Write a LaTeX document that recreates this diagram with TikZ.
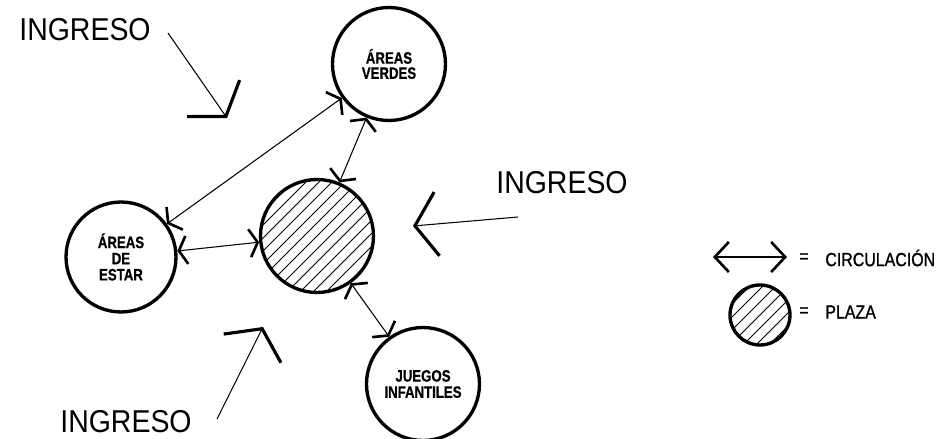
\documentclass[tikz,border=0pt]{standalone}
\usepackage{fontspec}
\setmainfont{Liberation Sans}
\newfontfamily\etiqfont[FakeStretch=0.8,FakeBold=0.7]{Liberation Sans}
\newfontfamily\leyfont[FakeStretch=0.84,FakeBold=1.2]{Liberation Sans}
\newfontfamily\ingfont[FakeStretch=0.9]{Liberation Sans}
\usetikzlibrary{positioning,arrows.meta}

\tikzset{
  zona/.style={circle, draw, line width=1.9pt, minimum size=2.26cm, inner sep=0pt, align=center, font=\etiqfont\bfseries\fontsize{9.4}{9.2}\selectfont},
  rayado/.style={path picture={
    \foreach \d in {-130,-117,...,130}
      \draw[line width=0.5pt] ([shift={(\d-80,80)}]path picture bounding box.center) -- ([shift={(\d+80,-80)}]path picture bounding box.center);}},
  circula/.style={line width=0.6pt, {Straight Barb[length=0.16cm,width=0.56cm,line width=1.5pt]}-{Straight Barb[length=0.16cm,width=0.56cm,line width=1.5pt]}},
  leyenda/.style={line width=0.6pt, {Straight Barb[length=0.28cm,width=0.6cm,line width=1.5pt]}-{Straight Barb[length=0.28cm,width=0.6cm,line width=1.5pt]}},
  ingreso/.style={line width=0.6pt, -{Straight Barb[length=0.44cm,width=1.28cm,line width=1.8pt]}},
  rotulo/.style={font=\ingfont\fontsize{18}{18}\selectfont, inner sep=0pt},
  nota/.style={font=\leyfont\fontsize{10.8}{10.8}\selectfont, inner sep=0pt},
}

\begin{document}
\begin{tikzpicture}[x=0.02cm, y=-0.02cm]
\useasboundingbox (0,0) rectangle (940,439);

% zonas
\node[zona, rayado] (plaza) at (317,236) {};
\node[zona, font=\etiqfont\bfseries\fontsize{9.4}{8.6}\selectfont] (verdes) at (389,64) {ÁREAS\\VERDES};
\node[zona, minimum size=2.2cm] (estar) at (121,257) {ÁREAS\\DE\\ESTAR};
\node[zona] (juegos) at (423,384) {JUEGOS\\INFANTILES};

% circulacion
\draw[circula] (estar) -- (verdes);
\draw[circula] (plaza) -- (verdes);
\draw[circula] (estar) -- (plaza);
\draw[circula] (plaza) -- (juegos);

% ingresos
\coordinate (in1s) at (168,33);
\coordinate (in1e) at (227,118);
\coordinate (in2s) at (518,217);
\coordinate (in2e) at (413,226);
\coordinate (in3s) at (217,419);
\coordinate (in3e) at (263,327);
\draw[ingreso] (in1s) -- (in1e);
\draw[ingreso] (in2s) -- (in2e);
\draw[ingreso] (in3s) -- (in3e);

\node[rotulo] (ing1) at (85,30) {INGRESO};
\node[rotulo] (ing2) at (562,183) {INGRESO};
\node[rotulo] (ing3) at (126,422) {INGRESO};

% leyenda
\coordinate (legA) at (713,257);
\coordinate (legB) at (787,257);
\draw[leyenda] (legA) -- (legB);
\node[zona, rayado, minimum size=1.2cm] (legplaza) at (760,315) {};

\node[nota] (eq1) at (804,258) {=};
\node[nota] (eq2) at (804,312) {=};
\node[nota, anchor=west] (txt1) at (825,258) {CIRCULACIÓN};
\node[nota, anchor=west] (txt2) at (825,312) {PLAZA};

\end{tikzpicture}
\end{document}
